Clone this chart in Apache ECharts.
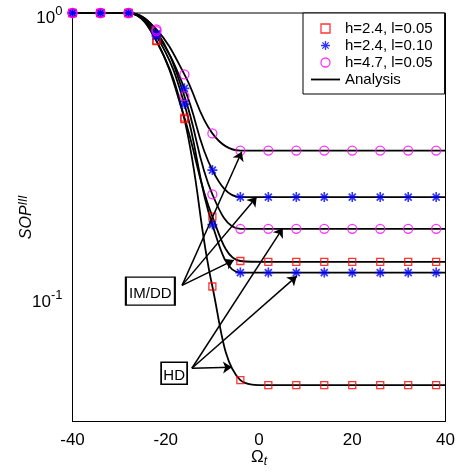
<!DOCTYPE html>
<html>
<head>
<meta charset="utf-8">
<script src="https://cdn.jsdelivr.net/npm/echarts@6/dist/echarts.min.js"></script>
<style>
  html, body { margin: 0; padding: 0; background: #fff; }
  #chart { width: 461px; height: 472px; }
</style>
</head>
<body>
<div id="chart"></div>
<script>
// Frequency offset grid of the simulated points
const omega = [-40, -34, -28, -22, -16, -10, -4, 2, 8, 14, 20, 26, 32, 38];

// Simulated SOP (symbols): two receivers (IM/DD, HD) per parameter set
const sopRedImdd  = [1, 1, 1, 0.799, 0.428, 0.192, 0.134, 0.133, 0.133, 0.133, 0.133, 0.133, 0.133, 0.133];
const sopRedHd    = [1, 1, 1, 0.797, 0.423, 0.109, 0.051, 0.049, 0.049, 0.049, 0.049, 0.049, 0.049, 0.049];
const sopBlueImdd = [1, 1, 1, 0.844, 0.543, 0.280, 0.225, 0.225, 0.225, 0.225, 0.225, 0.225, 0.225, 0.225];
const sopBlueHd   = [1, 1, 1, 0.830, 0.478, 0.180, 0.122, 0.122, 0.122, 0.122, 0.122, 0.122, 0.122, 0.122];
const sopMagImdd  = [1, 1, 1, 0.875, 0.608, 0.377, 0.328, 0.328, 0.328, 0.328, 0.328, 0.328, 0.328, 0.328];
const sopMagHd    = [1, 1, 1, 0.864, 0.510, 0.230, 0.174, 0.174, 0.174, 0.174, 0.174, 0.174, 0.174, 0.174];

// Analytical curves, sampled on the same grid and carried to the right edge
const omegaFit    = [-40, -34, -28, -22, -16, -10, -4, 2, 8, 14, 20, 26, 32, 38, 40];
const fitRedImdd  = [1, 1, 1, 0.799, 0.428, 0.192, 0.134, 0.133, 0.133, 0.133, 0.133, 0.133, 0.133, 0.133, 0.133];
const fitRedHd    = [1, 1, 1, 0.797, 0.423, 0.109, 0.051, 0.049, 0.049, 0.049, 0.049, 0.049, 0.049, 0.049, 0.049];
const fitBlueImdd = [1, 1, 1, 0.844, 0.543, 0.280, 0.225, 0.225, 0.225, 0.225, 0.225, 0.225, 0.225, 0.225, 0.225];
const fitBlueHd   = [1, 1, 1, 0.830, 0.478, 0.180, 0.122, 0.122, 0.122, 0.122, 0.122, 0.122, 0.122, 0.122, 0.122];
const fitMagImdd  = [1, 1, 1, 0.875, 0.608, 0.377, 0.328, 0.328, 0.328, 0.328, 0.328, 0.328, 0.328, 0.328, 0.328];
const fitMagHd    = [1, 1, 1, 0.864, 0.510, 0.230, 0.174, 0.174, 0.174, 0.174, 0.174, 0.174, 0.174, 0.174, 0.174];

// Legend entries
const legendNames = ['h=2.4, l=0.05', 'h=2.4, l=0.10', 'h=4.7, l=0.05', 'Analysis'];

// Axis ranges and ticks
const xTicks = [-40, -20, 0, 20, 40];
const yRange = [0.0365, 1];

// Call-out labels and the curve points their arrows reach (data coordinates)
const imddLabel = 'IM/DD';
const imddAnchor = [-23.3, 0.105];
const imddFrom = [-16.5, 0.110];
const imddTargets = [[-3.7, 0.325], [-0.5, 0.225], [-5.4, 0.135]];
const hdLabel = 'HD';
const hdAnchor = [-18.2, 0.054];
const hdFrom = [-14.4, 0.0562];
const hdTargets = [[-5.8, 0.0567], [5.1, 0.175], [8.1, 0.1186]];

const FONT = "'Liberation Sans', Arial, sans-serif";

const MARKS = {
  red:  { color: '#ff0000', symbol: 'path://M0,0H10V10H0Z', size: 7, stroke: 1.3 },
  blue: { color: '#0000ff', symbol: 'path://M5,0V10M0,5H10M1.5,1.5L8.5,8.5M1.5,8.5L8.5,1.5', size: 10, stroke: 1.6 },
  mag:  { color: '#ff00ff', symbol: 'circle', size: 9, stroke: 1.3 }
};

function markerSeries(name, vals, m) {
  return {
    type: 'scatter', name,
    data: omega.map((x, i) => [x, vals[i]]),
    symbol: m.symbol, symbolSize: m.size,
    itemStyle: { color: 'rgba(0,0,0,0)', borderColor: m.color, borderWidth: m.stroke },
    emphasis: { disabled: true }, z: 4
  };
}

function fitSeries(vals) {
  return {
    type: 'line', name: 'Analysis',
    data: omegaFit.map((x, i) => [x, vals[i]]),
    symbol: 'none', showSymbol: false, smooth: 0.4,
    lineStyle: { color: '#000', width: 1.8 },
    itemStyle: { color: '#000' },
    emphasis: { disabled: true }, z: 3
  };
}

const arrowLines = [
  ...imddTargets.map(t => [{ coord: imddFrom, symbol: 'none' }, { coord: t, symbol: 'arrow' }]),
  ...hdTargets.map(t => [{ coord: hdFrom, symbol: 'none' }, { coord: t, symbol: 'arrow' }])
];

const boxStyle = { color: '#fff', borderColor: '#000', borderWidth: 1.6 };

const chart = echarts.init(document.getElementById('chart'), null, { renderer: 'canvas' });
chart.setOption({
  animation: false,
  backgroundColor: '#fff',
  grid: { left: 72.5, right: 15.5, top: 13, bottom: 50.5, show: true, borderColor: '#000', borderWidth: 1, backgroundColor: 'transparent', outerBoundsMode: 'none' },
  legend: {
    orient: 'vertical', left: 303, top: 13,
    padding: [8, 12, 7, 8], itemGap: 2, itemWidth: 29, itemHeight: 9,
    backgroundColor: '#fff', borderColor: '#000', borderWidth: 1, borderRadius: 0,
    textStyle: { fontSize: 15, color: '#000', fontFamily: FONT },
    itemStyle: { borderWidth: 1.3 },
    selectedMode: false,
    data: [
      legendNames[0], legendNames[1], legendNames[2],
      { name: legendNames[3], icon: 'path://M0,0H29V1.8H0Z', itemStyle: { color: '#000', borderWidth: 0 } }
    ]
  },
  xAxis: {
    type: 'value', min: xTicks[0], max: xTicks[xTicks.length - 1], interval: 20,
    axisLine: { show: true, onZero: false, lineStyle: { color: '#000', width: 1 } },
    axisTick: { show: false },
    splitLine: { show: false },
    axisLabel: { fontSize: 17, color: '#000', fontFamily: FONT, margin: 10 },
    name: '{o|Ω}{t|t}', nameLocation: 'middle', nameGap: 27, nameMoveOverlap: false,
    nameTextStyle: {
      color: '#000', fontFamily: FONT,
      rich: {
        o: { fontSize: 17, fontFamily: FONT, color: '#000', verticalAlign: 'top' },
        t: { fontSize: 12, fontFamily: FONT, fontStyle: 'italic', color: '#000', verticalAlign: 'top', padding: [7, 0, 0, 0] }
      }
    }
  },
  yAxis: {
    type: 'log', logBase: 10, min: yRange[0], max: yRange[1],
    axisLine: { show: true, onZero: false, lineStyle: { color: '#000', width: 1 } },
    axisTick: { show: false },
    minorTick: { show: false },
    splitLine: { show: false },
    axisLabel: {
      margin: 10, padding: [5, 0, 0, 0], color: '#000',
      formatter: v => {
        const e = Math.log10(v);
        if (Math.abs(e - Math.round(e)) > 1e-6) return '';
        return '{b|10}{s|' + Math.round(e) + '}';
      },
      rich: {
        b: { fontSize: 17, fontFamily: FONT, color: '#000', verticalAlign: 'bottom' },
        s: { fontSize: 13, fontFamily: FONT, color: '#000', verticalAlign: 'top', padding: [0, 0, 9, 0] }
      }
    },
    name: 'SOP{s|III}', nameLocation: 'middle', nameGap: 36, nameMoveOverlap: false,
    nameTextStyle: {
      color: '#000', fontFamily: FONT, fontSize: 16, fontStyle: 'italic',
      rich: {
        s: { fontSize: 12, fontFamily: FONT, fontStyle: 'italic', color: '#000', verticalAlign: 'top', padding: [0, 0, 7, 0] }
      }
    }
  },
  series: [
    fitSeries(fitRedImdd), fitSeries(fitRedHd),
    fitSeries(fitBlueImdd), fitSeries(fitBlueHd),
    fitSeries(fitMagImdd), fitSeries(fitMagHd),
    markerSeries(legendNames[0], sopRedImdd, MARKS.red),
    markerSeries(legendNames[0], sopRedHd, MARKS.red),
    markerSeries(legendNames[1], sopBlueImdd, MARKS.blue),
    markerSeries(legendNames[1], sopBlueHd, MARKS.blue),
    markerSeries(legendNames[2], sopMagImdd, MARKS.mag),
    markerSeries(legendNames[2], sopMagHd, MARKS.mag),
    {
      type: 'scatter', name: 'callouts', data: [], z: 6,
      itemStyle: { color: '#000' },
      markLine: {
        silent: true, symbol: ['none', 'arrow'], symbolSize: 9, precision: 6,
        label: { show: false },
        itemStyle: { color: '#000' },
        lineStyle: { color: '#000', width: 1.5, type: 'solid' },
        emphasis: { disabled: true },
        data: arrowLines
      },
      markPoint: {
        silent: true, symbol: 'rect',
        itemStyle: boxStyle,
        label: { show: true, position: 'inside', color: '#000', fontFamily: FONT, fontSize: 15, offset: [0, 3] },
        data: [
          { coord: imddAnchor, symbolSize: [49, 28], value: imddLabel, label: { formatter: imddLabel } },
          { coord: hdAnchor, symbolSize: [26, 22], value: hdLabel, label: { formatter: hdLabel } }
        ]
      }
    }
  ]
});
</script>
</body>
</html>
